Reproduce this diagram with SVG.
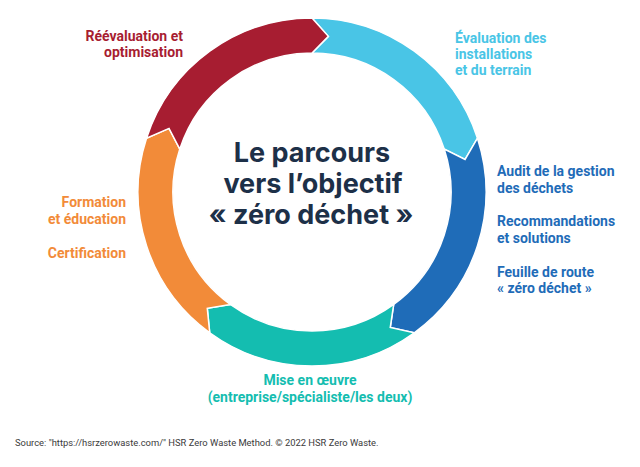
<svg xmlns="http://www.w3.org/2000/svg" width="640" height="467" viewBox="0 0 640 467">
<style>
.seg{stroke:#ffffff;stroke-width:1.5;stroke-linejoin:miter}
.lbl{font-family:Roboto,"Liberation Sans",Arial,sans-serif;font-weight:700;font-size:14px}
.title{font-family:Inter,"Open Sans","Liberation Sans",sans-serif;font-weight:700;font-size:27px;fill:#1D3048;text-anchor:middle}
.src{font-family:Roboto,"Liberation Sans",Arial,sans-serif;font-size:9.4px;fill:#3a3a3a}
</style>
<rect width="640" height="467" fill="#ffffff"/>
<g id="connectors"></g>
<g id="ring">
<path id="seg-cyan" class="seg" fill="#49C5E6" d="M312,18 A174,174 0 0 1 477.48,138.23 L465.08,159.46 L444.20,149.05 A139,139 0 0 0 312,53 L328.36,36.36 Z"/>
<path id="seg-blue" class="seg" fill="#1F6CB8" d="M477.48,138.23 A174,174 0 0 1 414.28,332.77 L390.25,327.53 L393.70,304.45 A139,139 0 0 0 444.20,149.05 L465.08,159.46 Z"/>
<path id="seg-teal" class="seg" fill="#14BDB0" d="M414.28,332.77 A174,174 0 0 1 209.73,332.77 L207.28,308.30 L230.30,304.45 A139,139 0 0 0 393.70,304.45 L390.25,327.53 Z"/>
<path id="seg-orange" class="seg" fill="#F28B39" d="M209.73,332.77 A174,174 0 0 1 146.52,138.23 L169.03,128.35 L179.80,149.05 A139,139 0 0 0 230.30,304.45 L207.28,308.30 Z"/>
<path id="seg-red" class="seg" fill="#A71D31" d="M146.52,138.23 A174,174 0 0 1 312,18 L328.36,36.36 L312,53 A139,139 0 0 0 179.80,149.05 L169.03,128.35 Z"/>
</g>
<g id="title">
<text class="title" x="312" y="162">Le parcours</text>
<text class="title" x="313" y="193">vers l’objectif</text>
<text class="title" x="311" y="224">« zéro déchet »</text>
</g>
<g id="node-reevaluation" class="lbl" fill="#A71D31" text-anchor="end">
<text x="183" y="41">Réévaluation et</text>
<text x="183" y="57">optimisation</text>
</g>
<g id="node-evaluation" class="lbl" fill="#49C5E6">
<text x="455" y="43">Évaluation des</text>
<text x="455" y="59">installations</text>
<text x="455" y="75">et du terrain</text>
</g>
<g id="node-audit" class="lbl" fill="#1F6CB8">
<text x="497" y="176">Audit de la gestion</text>
<text x="497" y="193">des déchets</text>
<text x="497" y="226">Recommandations</text>
<text x="497" y="243">et solutions</text>
<text x="497" y="277">Feuille de route</text>
<text x="497" y="293">« zéro déchet »</text>
</g>
<g id="node-mise" class="lbl" fill="#14BDB0" text-anchor="middle">
<text x="310" y="385">Mise en œuvre</text>
<text x="310" y="402">(entreprise/spécialiste/les deux)</text>
</g>
<g id="node-formation" class="lbl" fill="#F28B39" text-anchor="end">
<text x="126" y="207">Formation</text>
<text x="126" y="224">et éducation</text>
<text x="126" y="258">Certification</text>
</g>
<text class="src" x="15" y="446">Source: "https://hsrzerowaste.com/" HSR Zero Waste Method. © 2022 HSR Zero Waste.</text>
</svg>
